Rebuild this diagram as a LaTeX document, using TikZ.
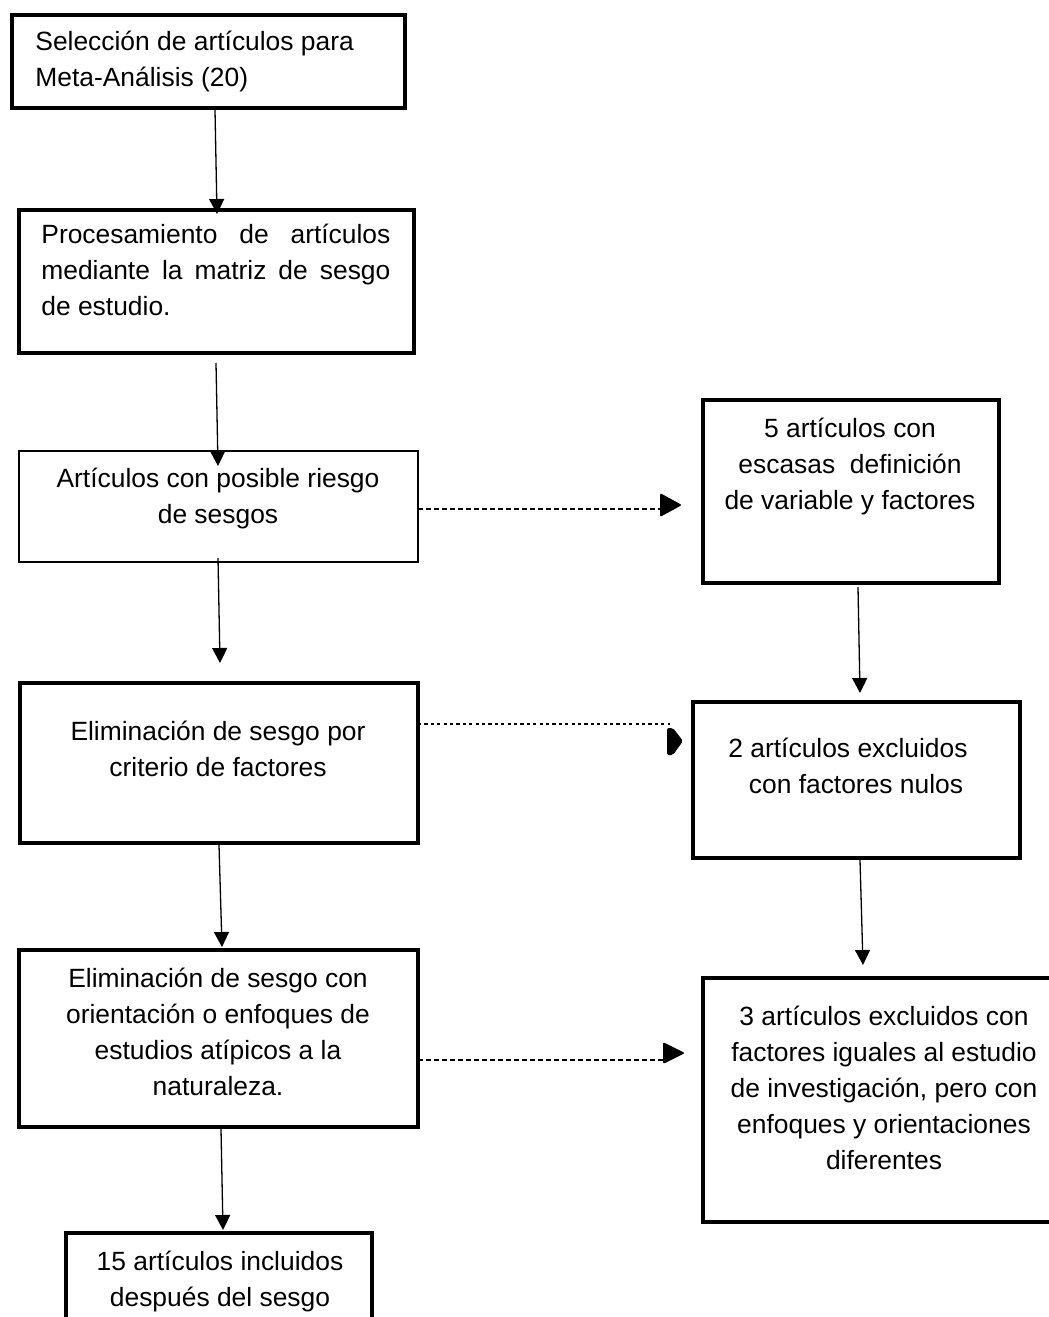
\documentclass[tikz,border=0pt]{standalone}
\usepackage{fontspec}
\setmainfont{Liberation Sans}
\usetikzlibrary{arrows.meta,calc}
\newcommand{\fst}{\rule{0pt}{11pt}}
\begin{document}
\begin{tikzpicture}[x=0.5pt,y=-0.5pt,
  box/.style={draw=black, line width=2pt, anchor=north west, inner sep=0pt, outer sep=0pt},
  thinbox/.style={box, line width=1.3pt},
  txt/.style={inner sep=0pt, anchor=north, align=center, font=\fontsize{13.2}{18}\selectfont},
  arr/.style={line width=0.65pt, -{Triangle[length=7.5pt,width=7.5pt]}},
  dashline/.style={line width=1pt, dash pattern=on 2.5pt off 1.5pt},
  dotline/.style={line width=1pt, dash pattern=on 1.6pt off 1.6pt},
  headfill/.style={fill=black, rounded corners=1pt}]
\fill[white] (0,0) rectangle (1049,1317);
\useasboundingbox (0,0) rectangle (1049,1317);

% left column boxes
\node[box, minimum width=196.5pt, minimum height=46.5pt] (b1) at (12,15) {};
\node[box, minimum width=197.5pt, minimum height=71.5pt] (b2) at (19,210) {};
\node[thinbox, minimum width=199.5pt, minimum height=55.5pt] (b3) at (19,451) {};
\node[box, minimum width=199pt, minimum height=80pt] (b4) at (20,683) {};
\node[box, minimum width=199.5pt, minimum height=88.5pt] (b5) at (19,950) {};
\node[box, minimum width=153pt, minimum height=53.5pt] (b6) at (66,1233) {};

% right column boxes
\node[box, minimum width=148pt, minimum height=91.5pt] (r1) at (703,400) {};
\node[box, minimum width=163.5pt, minimum height=78pt] (r2) at (693,702) {};
\node[box, minimum width=183.5pt, minimum height=122pt] (r3) at (703,978) {};

% texts
\node[txt, anchor=north west, align=left] (t1) at (35,28) {\fst Selección de artículos para\\Meta-Análisis (20)};
\node[txt, anchor=north west, align=justify, text width=174.5pt] (t2) at (41,221)
  {\hyphenpenalty=10000\fst Procesamiento de artículos mediante la matriz de sesgo de estudio.};
\node[txt] (t3) at (218,465) {\fst Artículos con posible riesgo\\de sesgos};
\node[txt] (t4) at (218,718) {\fst Eliminación de sesgo por\\criterio de factores};
\node[txt] (t5) at (218,965) {\fst Eliminación de sesgo con\\orientación o enfoques de\\estudios atípicos a la\\naturaleza.};
\node[txt] (t6) at (220,1248) {\fst 15 artículos incluidos\\después del sesgo};
\node[txt] (tr1) at (850,415) {\fst 5 artículos con\\escasas\ \ definición\\de variable y factores};
\node[txt] (tr2) at (848,735) {\fst 2 artículos excluidos\\\hspace*{8pt}con factores nulos};
\node[txt] (tr3) at (884,1003) {\fst 3 artículos excluidos con\\factores iguales al estudio\\de investigación, pero con\\enfoques y orientaciones\\diferentes};

% vertical connectors
\draw[arr] ($(b1.south west)+(203,2)$) -- ($(b2.north west)+(198,4)$);
\draw[arr] ($(b2.south west)+(197,10)$) -- ($(b3.north west)+(199,15)$);
\draw[arr] ($(b3.south west)+(199,-4)$) -- ($(b4.north west)+(200,-20)$);
\draw[arr] ($(b4.south west)+(199,2)$) -- ($(b5.north west)+(203,-3)$);
\draw[arr] ($(b5.south west)+(202,2)$) -- ($(b6.north west)+(157,-3)$);
\draw[arr] ($(r1.south west)+(155,4)$) -- ($(r2.north west)+(167,-9)$);
\draw[arr] ($(r2.south west)+(167,2)$) -- ($(r3.north west)+(160,-13)$);

% horizontal dashed connectors
\coordinate (h1) at ($(r1.west)+(-43,17.5)$);
\draw[dashline] ($(b3.east)+(0,2.5)$) -- (h1);
\fill[headfill] (h1) ++(0,-16) -- ++(22,12) -- ++(-22,12) -- cycle;

\coordinate (h2) at ($(r2.west)+(-23,-56)$);
\draw[dotline] ($(b4.east)+(0,-39)$) -- (h2);
\fill[headfill] (h2) ++(-3,4) -- ++(6,0) -- ++(10,13) -- ++(-10,14) -- ++(-6,0) -- cycle;

\coordinate (h3) at ($(r3.west)+(-40,-40)$);
\draw[dashline] ($(b5.east)+(0,21.5)$) -- (h3);
\fill[headfill] (h3) ++(0,-18) -- ++(22,11) -- ++(-22,11) -- cycle;
\end{tikzpicture}
\end{document}
